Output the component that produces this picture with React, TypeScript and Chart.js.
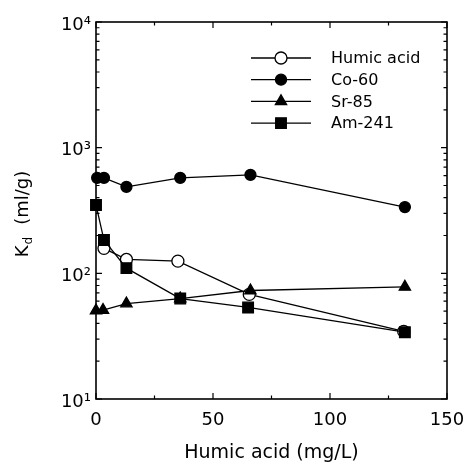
import React, { useEffect, useRef } from "react";
import { Chart, registerables } from "chart.js";

Chart.register(...registerables);

// ---- data ----
const seriesNames = ["Humic acid", "Co-60", "Sr-85", "Am-241"];
const humicX = [3.4, 13, 35, 65.5, 131.5];
const humicKd = [158, 129, 125, 68, 34.5];
const coX = [0.5, 3.4, 13, 36, 66, 132];
const coKd = [575, 575, 488, 575, 608, 337];
const srX = [0, 3, 13, 36, 66, 132];
const srKd = [50.6, 51, 57.5, 63, 73, 78];
const amX = [0, 3.4, 13, 36, 65, 132];
const amKd = [350, 184, 110, 63, 53.5, 34];

const xTicks = [0, 50, 100, 150];
const xMinorTicks = [25, 75, 125];
const yTicks = [10, 100, 1000, 10000];
const yTickLabels = ["10\u00B9", "10\u00B2", "10\u00B3", "10\u2074"];
const xTitle = "Humic acid (mg/L)";
const yTitleMain = "K";
const yTitleSub = "d";
const yTitleUnit = "(ml/g)";

const FONT = "'DejaVu Sans', Verdana, sans-serif";

const toPts = (xs: number[], ys: number[]) => xs.map((x, i) => ({ x, y: ys[i] }));

const markerStyles = [
  { pointStyle: "circle", radius: 6, fill: "#ffffff" },
  { pointStyle: "circle", radius: 5.5, fill: "#000000" },
  { pointStyle: "triangle", radius: 6.5, fill: "#000000" },
  { pointStyle: "rect", radius: 7.5, fill: "#000000" },
];

function drawMarker(ctx: CanvasRenderingContext2D, style: string, x: number, y: number, r: number, fill: string) {
  ctx.save();
  ctx.beginPath();
  if (style === "circle") {
    ctx.arc(x, y, r, 0, Math.PI * 2);
  } else if (style === "triangle") {
    const s = r;
    ctx.moveTo(x, y - s);
    ctx.lineTo(x + s * 0.866, y + s * 0.5);
    ctx.lineTo(x - s * 0.866, y + s * 0.5);
    ctx.closePath();
  } else {
    const s = r * Math.SQRT1_2;
    ctx.rect(x - s, y - s, 2 * s, 2 * s);
  }
  ctx.fillStyle = fill;
  ctx.fill();
  ctx.lineWidth = 1.3;
  ctx.strokeStyle = "#000";
  ctx.stroke();
  ctx.restore();
}

const framePlugin = {
  id: "frameTicks",
  beforeDatasetsDraw(chart: any) {
    const { ctx, chartArea: a, scales } = chart;
    const xs = scales.x;
    const ys = scales.y;
    ctx.save();
    ctx.strokeStyle = "#000";
    ctx.lineWidth = 1.6;
    ctx.strokeRect(a.left, a.top, a.right - a.left, a.bottom - a.top);
    ctx.lineWidth = 1.2;
    ctx.beginPath();
    const major = 6;
    const minor = 3.5;
    xTicks.forEach((v) => {
      const px = xs.getPixelForValue(v);
      ctx.moveTo(px, a.bottom);
      ctx.lineTo(px, a.bottom - major);
      ctx.moveTo(px, a.top);
      ctx.lineTo(px, a.top + major);
    });
    xMinorTicks.forEach((v) => {
      const px = xs.getPixelForValue(v);
      ctx.moveTo(px, a.bottom);
      ctx.lineTo(px, a.bottom - minor);
      ctx.moveTo(px, a.top);
      ctx.lineTo(px, a.top + minor);
    });
    yTicks.forEach((v, i) => {
      const py = ys.getPixelForValue(v);
      ctx.moveTo(a.left, py);
      ctx.lineTo(a.left + major, py);
      ctx.moveTo(a.right, py);
      ctx.lineTo(a.right - major, py);
      if (i < yTicks.length - 1) {
        for (let m = 2; m <= 9; m++) {
          const pm = ys.getPixelForValue(v * m);
          ctx.moveTo(a.left, pm);
          ctx.lineTo(a.left + minor, pm);
          ctx.moveTo(a.right, pm);
          ctx.lineTo(a.right - minor, pm);
        }
      }
    });
    ctx.stroke();
    ctx.restore();
  },
  afterDraw(chart: any) {
    const { ctx, chartArea: a } = chart;
    ctx.save();
    // legend
    const x1 = a.right - 196;
    const x2 = a.right - 136;
    const xm = (x1 + x2) / 2;
    const y0 = a.top + 36;
    const dy = 21.7;
    ctx.font = `16px ${FONT}`;
    ctx.textBaseline = "middle";
    ctx.textAlign = "left";
    seriesNames.forEach((name, i) => {
      const y = y0 + i * dy;
      ctx.beginPath();
      ctx.strokeStyle = "#000";
      ctx.lineWidth = 1.3;
      ctx.moveTo(x1, y);
      ctx.lineTo(x2, y);
      ctx.stroke();
      const ms = markerStyles[i];
      drawMarker(ctx, ms.pointStyle, xm, y, ms.radius, ms.fill);
      ctx.fillStyle = "#000";
      ctx.fillText(name, a.right - 116, y + 1);
    });
    // y title with subscript
    const cx = 23;
    const cy = (a.top + a.bottom) / 2 + 4;
    ctx.translate(cx, cy);
    ctx.rotate(-Math.PI / 2);
    const mainFont = `18px ${FONT}`;
    const subFont = `12px ${FONT}`;
    ctx.font = mainFont;
    const wK = ctx.measureText(yTitleMain).width;
    const wU = ctx.measureText(yTitleUnit).width;
    ctx.font = subFont;
    const wD = ctx.measureText(yTitleSub).width;
    const gap = 12;
    const total = wK + wD + gap + wU;
    let tx = -total / 2;
    ctx.fillStyle = "#000";
    ctx.textBaseline = "middle";
    ctx.font = mainFont;
    ctx.fillText(yTitleMain, tx, 0);
    tx += wK + 1;
    ctx.font = subFont;
    ctx.fillText(yTitleSub, tx, 6);
    tx += wD + gap;
    ctx.font = mainFont;
    ctx.fillText(yTitleUnit, tx, 0);
    ctx.restore();
  },
};

export default function App() {
  const ref = useRef<HTMLCanvasElement | null>(null);
  useEffect(() => {
    if (!ref.current) return;
    const mk = (label: string, xs: number[], ys: number[], i: number) => ({
      label,
      data: toPts(xs, ys),
      borderColor: "#000",
      borderWidth: 1.3,
      backgroundColor: markerStyles[i].fill,
      pointStyle: markerStyles[i].pointStyle,
      pointRadius: markerStyles[i].radius,
      pointBorderColor: "#000",
      pointBorderWidth: 1.3,
      pointBackgroundColor: markerStyles[i].fill,
      fill: false,
      tension: 0,
      clip: false,
      showLine: true,
    });
    const chart = new Chart(ref.current, {
      type: "line",
      data: {
        datasets: [
          mk(seriesNames[3], amX, amKd, 3),
          mk(seriesNames[2], srX, srKd, 2),
          mk(seriesNames[1], coX, coKd, 1),
          mk(seriesNames[0], humicX, humicKd, 0),
        ] as any,
      },
      options: {
        animation: false,
        responsive: false,
        devicePixelRatio: 1,
        layout: { padding: { top: 22, right: 18, left: 0, bottom: 0 } },
        plugins: { legend: { display: false }, tooltip: { enabled: false } },
        scales: {
          x: {
            type: "linear",
            min: 0,
            max: 150,
            grid: { display: false, drawTicks: false, tickLength: 0 },
            border: { display: false },
            afterBuildTicks: (s: any) => {
              s.ticks = xTicks.map((v) => ({ value: v }));
            },
            afterFit: (s: any) => {
              s.height = 68;
              s.paddingLeft = 0;
              s.paddingRight = 0;
            },
            ticks: {
              color: "#000",
              padding: 11,
              maxRotation: 0,
              font: { family: FONT, size: 18 },
              callback: (v: any) => String(v),
            },
            title: {
              display: true,
              text: xTitle,
              color: "#000",
              font: { family: FONT, size: 19 },
              padding: { top: 0, bottom: 3 },
            },
          },
          y: {
            type: "logarithmic",
            min: 10,
            max: 10000,
            grid: { display: false, drawTicks: false, tickLength: 0 },
            border: { display: false },
            afterBuildTicks: (s: any) => {
              s.ticks = yTicks.map((v) => ({ value: v }));
            },
            afterFit: (s: any) => {
              s.width = 96;
              s.paddingTop = 0;
              s.paddingBottom = 0;
            },
            ticks: {
              color: "#000",
              padding: 5,
              labelOffset: 3,
              font: { family: FONT, size: 18 },
              callback: (v: any) => {
                const idx = yTicks.indexOf(Number(v));
                return idx >= 0 ? yTickLabels[idx] : "";
              },
            },
          },
        },
      },
      plugins: [framePlugin],
    });
    return () => chart.destroy();
  }, []);
  return (
    <div style={{ position: "absolute", left: 0, top: 0, width: 465, height: 467, background: "#fff" }}>
      <canvas ref={ref} width={465} height={467} />
    </div>
  );
}
